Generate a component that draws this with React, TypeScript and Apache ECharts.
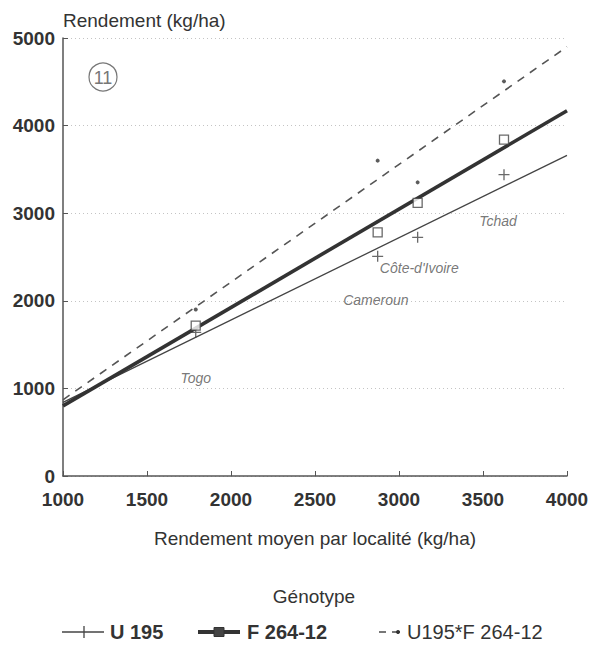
import React, { useEffect, useRef } from "react";
import * as echarts from "echarts";

// Mean yield per location (kg/ha) and genotype yields at each location
const locations = ["Togo", "Cameroun", "Côte-d'Ivoire", "Tchad"];
const locationMeans = [1790, 2873, 3111, 3625];
const u195Yield = [1640, 2508, 2725, 3440];
const f26412Yield = [1717, 2782, 3117, 3840];
const hybridYield = [1900, 3600, 3352, 4505];

// Fitted regression lines, evaluated at both ends of the x range
const fitRange = [1000, 4000];
const u195Fit = [840, 3660];
const f26412Fit = [800, 4170];
const hybridFit = [870, 4900];

// Where each location name is written (data coordinates)
const locationLabelAt = [
  [1790, 1120],
  [2862, 2006],
  [3121, 2376],
  [3589, 2907],
];

const FONT = "'Liberation Sans', Arial, Helvetica, sans-serif";
const INK = "#333";

const PLUS = "path://M4.4,0H5.6V4.4H10V5.6H5.6V10H4.4V5.6H0V4.4H4.4Z";

const pairs = (xs: number[], ys: number[]) => xs.map((x, i) => [x, ys[i]]);
const plain = (v: number) => String(v);

export default function App() {
  const ref = useRef<HTMLDivElement>(null);

  useEffect(() => {
    if (!ref.current) return;
    const chart = echarts.init(ref.current, null, { renderer: "svg" });

    const legendY = 632;

    chart.setOption({
      animation: false,
      backgroundColor: "#ffffff",
      grid: { left: 63, right: 26, top: 38, bottom: 169, outerBoundsMode: "none" },
      xAxis: {
        type: "value",
        min: 1000,
        max: 4000,
        interval: 500,
        name: "Rendement moyen par localité (kg/ha)",
        nameLocation: "middle",
        nameGap: 62,
        nameTextStyle: { fontFamily: FONT, fontSize: 19, color: INK, verticalAlign: "middle" },
        axisLine: { lineStyle: { color: "#555", width: 1.5 } },
        axisTick: { inside: true, length: 5, lineStyle: { color: "#555", width: 1 } },
        axisLabel: {
          margin: 14,
          fontFamily: FONT,
          fontSize: 19,
          fontWeight: "bold",
          color: INK,
          formatter: plain,
        },
        splitLine: { show: false },
      },
      yAxis: {
        type: "value",
        min: 0,
        max: 5000,
        interval: 1000,
        name: "Rendement (kg/ha)",
        nameLocation: "end",
        nameGap: 18,
        nameTextStyle: { fontFamily: FONT, fontSize: 19, color: INK, align: "left", verticalAlign: "middle" },
        axisLine: { show: true, lineStyle: { color: "#555", width: 1.5 } },
        axisTick: { show: true, inside: true, length: 5, lineStyle: { color: "#555", width: 1 } },
        axisLabel: {
          margin: 8,
          fontFamily: FONT,
          fontSize: 19,
          fontWeight: "bold",
          color: INK,
          formatter: plain,
        },
        splitLine: { show: true, lineStyle: { color: "#c4c4c4", type: [1, 3], width: 1 } },
      },
      series: [
        {
          name: "U 195",
          type: "line",
          data: pairs(fitRange, u195Fit),
          symbol: "none",
          lineStyle: { color: "#444", width: 1.3 },
          z: 3,
        },
        {
          name: "F 264-12",
          type: "line",
          data: pairs(fitRange, f26412Fit),
          symbol: "none",
          lineStyle: { color: "#333", width: 3.6 },
          z: 4,
        },
        {
          name: "U195*F 264-12",
          type: "line",
          data: pairs(fitRange, hybridFit),
          symbol: "none",
          lineStyle: { color: "#555", width: 1.6, type: [8, 7] },
          z: 3,
        },
        {
          type: "scatter",
          data: pairs(locationMeans, u195Yield),
          symbol: PLUS,
          symbolSize: 11,
          itemStyle: { color: "#444" },
          z: 5,
        },
        {
          type: "scatter",
          data: pairs(locationMeans, f26412Yield),
          symbol: "rect",
          symbolSize: 9,
          itemStyle: { color: "#ffffff", borderColor: "#444", borderWidth: 1.3 },
          z: 5,
        },
        {
          type: "scatter",
          data: pairs(locationMeans, hybridYield),
          symbol: "circle",
          symbolSize: 4,
          itemStyle: { color: "#333" },
          z: 5,
        },
        {
          type: "scatter",
          silent: true,
          data: locations.map((name, i) => ({ name, value: locationLabelAt[i] })),
          symbolSize: 1,
          itemStyle: { color: "rgba(0,0,0,0)" },
          label: {
            show: true,
            position: "inside",
            formatter: "{b}",
            fontFamily: FONT,
            fontSize: 14,
            fontStyle: "italic",
            color: "#555",
          },
          z: 6,
        },
      ],
      graphic: [
        // Panel number
        {
          type: "circle",
          shape: { cx: 103, cy: 77, r: 14 },
          style: { fill: "none", stroke: "#777", lineWidth: 1.2 },
        },
        {
          type: "text",
          x: 103,
          y: 78,
          style: {
            text: "11",
            fontFamily: FONT,
            fontSize: 18,
            fill: "#777",
            align: "center",
            verticalAlign: "middle",
          },
        },
        // Legend heading
        {
          type: "text",
          x: 314,
          y: 596,
          style: {
            text: "Génotype",
            fontFamily: FONT,
            fontSize: 19,
            fill: INK,
            align: "center",
            verticalAlign: "middle",
          },
        },
        // Legend: U 195
        {
          type: "line",
          shape: { x1: 62, y1: legendY, x2: 104, y2: legendY },
          style: { stroke: "#444", lineWidth: 1.3 },
        },
        {
          type: "line",
          shape: { x1: 84, y1: legendY - 6, x2: 84, y2: legendY + 6 },
          style: { stroke: "#444", lineWidth: 1.3 },
        },
        {
          type: "text",
          x: 110,
          y: legendY,
          style: {
            text: "U 195",
            fontFamily: FONT,
            fontSize: 20,
            fontWeight: "bold",
            fill: INK,
            align: "left",
            verticalAlign: "middle",
          },
        },
        // Legend: F 264-12
        {
          type: "line",
          shape: { x1: 198, y1: legendY, x2: 240, y2: legendY },
          style: { stroke: "#333", lineWidth: 4 },
        },
        {
          type: "rect",
          shape: { x: 214, y: legendY - 4.5, width: 10, height: 9 },
          style: { fill: "#444", stroke: "#333", lineWidth: 1 },
        },
        {
          type: "text",
          x: 247,
          y: legendY,
          style: {
            text: "F 264-12",
            fontFamily: FONT,
            fontSize: 20,
            fontWeight: "bold",
            fill: INK,
            align: "left",
            verticalAlign: "middle",
          },
        },
        // Legend: U195*F 264-12
        {
          type: "line",
          shape: { x1: 379, y1: legendY, x2: 386, y2: legendY },
          style: { stroke: "#555", lineWidth: 1.6 },
        },
        {
          type: "line",
          shape: { x1: 392, y1: legendY, x2: 400, y2: legendY },
          style: { stroke: "#555", lineWidth: 1.6 },
        },
        {
          type: "circle",
          shape: { cx: 398, cy: legendY, r: 2 },
          style: { fill: "#333" },
        },
        {
          type: "text",
          x: 407,
          y: legendY,
          style: {
            text: "U195*F 264-12",
            fontFamily: FONT,
            fontSize: 20,
            fill: INK,
            align: "left",
            verticalAlign: "middle",
          },
        },
      ],
    });

    return () => chart.dispose();
  }, []);

  return (
    <div
      ref={ref}
      style={{ position: "fixed", left: 0, top: 0, width: 593, height: 645, background: "#fff" }}
    />
  );
}
